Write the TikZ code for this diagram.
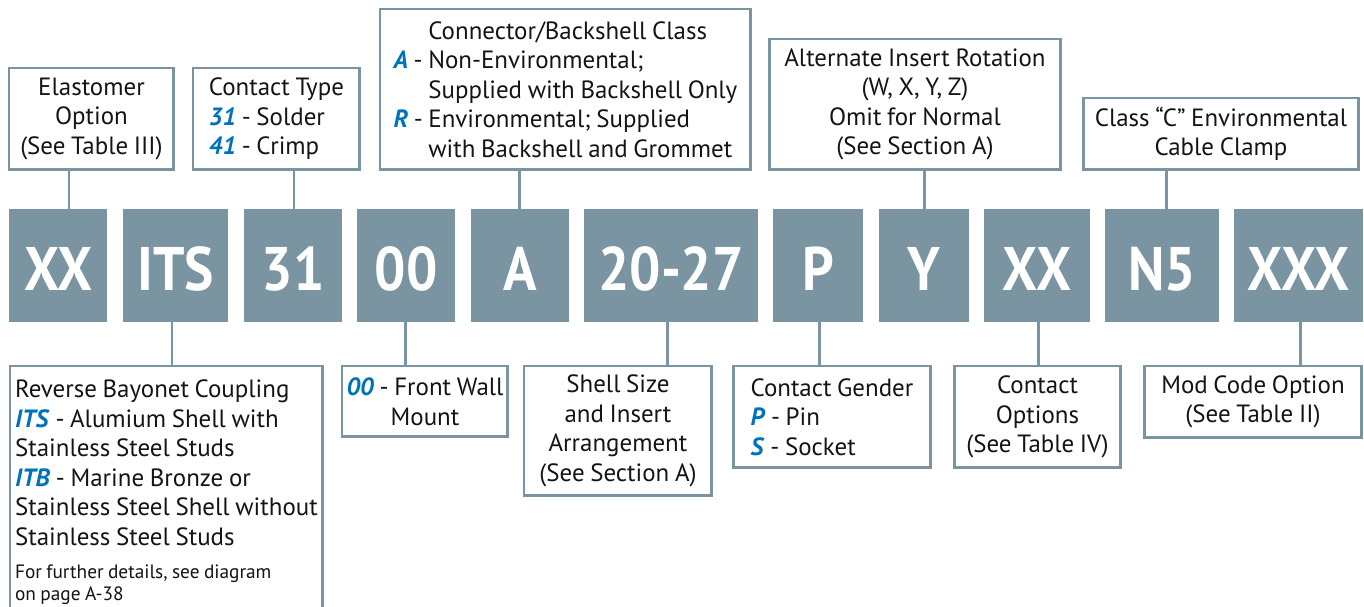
\documentclass[tikz,border=0pt]{standalone}
\usepackage{fontspec}
\setmainfont{PT Sans}[WordSpace=0.85]
\newfontfamily\codefont[FakeStretch=0.9]{PT Sans Bold}
\usetikzlibrary{positioning}
\definecolor{slate}{HTML}{7A94A2}
\definecolor{accent}{HTML}{0072BC}
\definecolor{textmain}{HTML}{141414}
\newcommand{\opt}[1]{\textcolor{accent}{\textbf{\textit{#1}}}}

\begin{document}
\begin{tikzpicture}[x=0.02cm, y=-0.02cm,
    codebox/.style={fill=slate, draw=none, minimum height=2.26cm, inner sep=0pt,
                 font=\codefont\fontsize{35}{40}\selectfont, text=white,
                 text height=27.9pt, text depth=0pt},
    infobox/.style={draw=slate, line width=1.7pt, fill=white, anchor=north west,
                 inner sep=0pt, font=\fontsize{14.2}{16.8}\selectfont, text=textmain},
    link/.style={draw=slate, line width=1.7pt},
  ]
  \useasboundingbox (0,0) rectangle (1364,606);

  \node[codebox, minimum width=1.97cm] (c1)  at (58.25,265.5)  {XX};
  \node[codebox, minimum width=2.11cm] (c2)  at (175.75,265.5) {ITS};
  \node[codebox, minimum width=1.96cm] (c3)  at (293,265.5)    {31};
  \node[codebox, minimum width=1.96cm] (c4)  at (406,265.5)    {00};
  \node[codebox, minimum width=1.96cm] (c5)  at (520,265.5)    {A};
  \node[codebox, minimum width=3.48cm] (c6)  at (671,265.5)    {20-27};
  \node[codebox, minimum width=1.80cm] (c7)  at (818,265.5)    {P};
  \node[codebox, minimum width=1.80cm] (c8)  at (924,265.5)    {Y};
  \node[codebox, minimum width=2.12cm] (c9)  at (1037,265.5)   {XX};
  \node[codebox, minimum width=2.28cm] (c10) at (1162,265.5)   {N5};
  \node[codebox, minimum width=2.58cm] (c11) at (1298.5,265.5) {XXX};

  \node[infobox, minimum width=3.30cm, minimum height=2.04cm, align=center] (t1) at (7.5,66.5)
    {Elastomer\\Option\\(See Table III)};
  \node[infobox, minimum width=3.34cm, minimum height=2.04cm, align=left] (t2) at (191.5,66.5)
    {Contact Type\\\opt{31} - Solder\\\opt{41} - Crimp};
  \node[infobox, minimum width=7.42cm, minimum height=3.22cm, align=left] (t3) at (378.5,7.5)
    {\phantom{\opt{A} - }Connector/Backshell Class\\
     \opt{A} - Non-Environmental;\\
     \phantom{\opt{A} - }Supplied with Backshell Only\\
     \opt{R} - Environmental; Supplied\\
     \phantom{\opt{A} - }with Backshell and Grommet};
  \node[infobox, minimum width=5.84cm, minimum height=2.62cm, align=center] (t4) at (767.5,37.5)
    {Alternate Insert Rotation\\(W, X, Y, Z)\\Omit for Normal\\(See Section A)};
  \node[infobox, minimum width=5.52cm, minimum height=1.44cm, align=center] (t5) at (1081.5,96.5)
    {Class ``C'' Environmental\\Cable Clamp};

  \node[infobox, minimum width=6.26cm, inner ysep=8pt, align=left] (b1) at (8.5,364.5)
    {Reverse Bayonet Coupling\\
     \opt{ITS} - Alumium Shell with\\
     Stainless Steel Studs\\
     \opt{ITB} - Marine Bronze or\\
     Stainless Steel Shell without\\
     Stainless Steel Studs\\[2.3pt]
     {\fontsize{11}{13}\selectfont For further details, see diagram}\\[-4.8pt]
     {\fontsize{11}{13}\selectfont on page A-38}};
  \node[infobox, minimum width=3.32cm, minimum height=1.42cm, align=center] (b2) at (340.5,364.5)
    {\opt{00} - Front Wall\\Mount};
  \node[infobox, minimum width=3.76cm, minimum height=2.60cm, align=center] (b3) at (522.5,364.5)
    {Shell Size\\and Insert\\Arrangement\\(See Section A)};
  \node[infobox, minimum width=3.96cm, minimum height=2.04cm, align=left] (b4) at (731.5,364.5)
    {Contact Gender\\\opt{P} - Pin\\\opt{S} - Socket};
  \node[infobox, minimum width=3.34cm, minimum height=2.04cm, align=center] (b5) at (952.5,364.5)
    {Contact\\Options\\(See Table IV)};
  \node[infobox, minimum width=4.36cm, minimum height=1.44cm, align=center] (b6) at (1142.5,364.5)
    {Mod Code Option\\(See Table II)};

  \draw[link] (t1.south -| 69,0)   -- (c1.north -| 69,0);
  \draw[link] (t2.south -| 294,0)  -- (c3.north -| 294,0);
  \draw[link] (t3.south -| 519,0)  -- (c5.north -| 519,0);
  \draw[link] (t4.south -| 924,0)  -- (c8.north -| 924,0);
  \draw[link] (t5.south -| 1166,0) -- (c10.north -| 1166,0);

  \draw[link] (c2.south -| 172,0)  -- (b1.north -| 172,0);
  \draw[link] (c4.south -| 405,0)  -- (b2.north -| 405,0);
  \draw[link] (c6.south -| 667,0)  -- (b3.north -| 667,0);
  \draw[link] (c7.south -| 819,0)  -- (b4.north -| 819,0);
  \draw[link] (c9.south -| 1038,0) -- (b5.north -| 1038,0);
  \draw[link] (c11.south -| 1300,0) -- (b6.north -| 1300,0);
\end{tikzpicture}
\end{document}
